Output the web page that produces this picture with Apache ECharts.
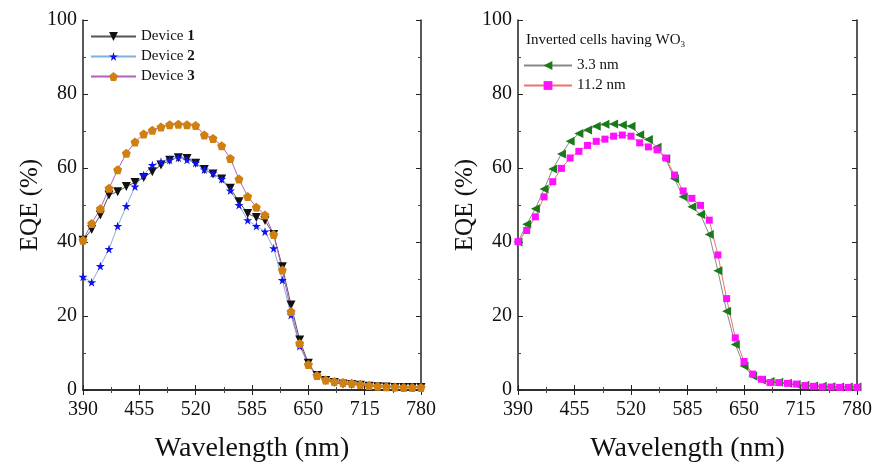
<!DOCTYPE html>
<html lang="en">
<head>
<meta charset="UTF-8">
<title>EQE</title>
<style>
  html, body { margin: 0; padding: 0; background: #fff; }
  #chart { width: 875px; height: 464px; }
</style>
</head>
<body>
<div id="chart"></div>
<script src="https://cdn.jsdelivr.net/npm/echarts@6/dist/echarts.min.js"></script>
<script>
// wavelength (nm), 10 nm steps
var wavelength = [390,400,410,420,430,440,450,460,470,480,490,500,510,520,530,540,550,560,570,580,
                  590,600,610,620,630,640,650,660,670,680,690,700,710,720,730,740,750,760,770,780];

// left panel
var device1 = [40.5,43.4,47.3,52.7,53.6,55.0,56.1,57.4,59.0,60.8,62.1,62.8,62.6,61.3,59.6,58.4,57.0,54.5,50.9,47.7,
               46.6,45.8,42.0,33.3,23.0,13.5,7.2,3.9,2.6,2.0,1.6,1.5,1.3,1.0,0.9,0.8,0.7,0.7,0.7,0.7];
var device2 = [30.6,29.1,33.5,38.1,44.3,49.7,55.0,58.1,60.8,61.7,62.2,62.8,62.2,61.4,59.6,58.6,57.0,53.9,50.0,45.9,
               44.3,42.8,38.3,29.7,20.3,11.9,6.8,3.9,2.7,2.2,1.9,1.7,1.4,1.1,1.0,0.9,0.8,0.7,0.7,0.7];
var device3 = [40.5,45.0,49.0,54.5,59.5,64.0,67.0,69.2,70.2,71.1,71.7,71.8,71.7,71.5,68.9,68.0,66.0,62.6,57.0,52.3,
               49.4,47.3,42.0,32.4,21.2,12.6,6.9,3.9,2.7,2.3,2.0,1.8,1.5,1.2,1.0,0.9,0.8,0.7,0.7,0.7];

// right panel
var wo3_33 = [40.0,44.8,49.0,54.3,59.7,63.8,67.2,69.3,70.3,71.3,71.8,71.9,71.6,71.3,69.0,67.7,65.6,62.5,57.1,52.2,
              49.5,47.4,42.0,32.2,21.3,12.3,6.5,3.8,2.7,2.3,2.1,1.8,1.5,1.3,1.1,1.0,0.9,0.8,0.8,0.8];
var wo3_112 = [40.1,43.1,46.8,52.2,56.3,59.9,62.7,64.5,66.1,67.2,67.8,68.6,68.9,68.6,66.8,65.7,64.9,62.7,58.1,53.8,
               51.8,49.9,45.9,36.5,24.7,14.1,7.7,4.3,2.9,2.0,2.0,1.8,1.6,1.2,1.0,0.8,0.8,0.7,0.7,0.7];

var xMin = 390, xMax = 780, xStep = 65;
var yMin = 0, yMax = 100, yStep = 20;

function pairs(ys) {
  var out = [];
  for (var i = 0; i < wavelength.length; i++) out.push([wavelength[i], ys[i]]);
  return out;
}

var font = 'Liberation Serif';
var starPath = 'path://M50,0 L61,35 L98,35 L68,57 L79,91 L50,70 L21,91 L32,57 L2,35 L39,35 Z';
var pentPath = 'path://M50,0 L98,35 L79,91 L21,91 L2,35 Z';

function xAxisFor(grid, top) {
  return {
    type: 'value', gridIndex: grid, position: top ? 'top' : 'bottom',
    min: xMin, max: xMax, interval: xStep,
    name: top ? '' : 'Wavelength (nm)', nameLocation: 'middle', nameGap: 45,
    nameTextStyle: { fontFamily: font, fontSize: 28, color: '#111' },
    axisLine: { show: true, lineStyle: { color: '#222', width: 1.5 } },
    axisTick: { show: true, inside: true, length: 5, lineStyle: { color: '#222' } },
    minorTick: { show: true, splitNumber: 2, length: 3, lineStyle: { color: '#444' } },
    axisLabel: { show: !top, fontFamily: font, fontSize: 20, color: '#111', margin: 10 },
    splitLine: { show: false }
  };
}

function yAxisFor(grid, right) {
  return {
    type: 'value', gridIndex: grid, position: right ? 'right' : 'left',
    min: yMin, max: yMax, interval: yStep,
    name: right ? '' : 'EQE (%)', nameLocation: 'middle', nameGap: 40,
    nameTextStyle: { fontFamily: font, fontSize: 25, color: '#111' },
    axisLine: { show: true, lineStyle: { color: '#222', width: 1.5 } },
    axisTick: { show: true, inside: true, length: 5, lineStyle: { color: '#222' } },
    minorTick: { show: true, splitNumber: 2, length: 3, lineStyle: { color: '#444' } },
    axisLabel: { show: !right, fontFamily: font, fontSize: 20, color: '#111', margin: 6 },
    splitLine: { show: false }
  };
}

function lineSeries(name, data, xi, yi, symbol, size, rot, symColor, lineColor) {
  return {
    name: name, type: 'line', xAxisIndex: xi, yAxisIndex: yi,
    data: pairs(data), symbol: symbol, symbolSize: size, symbolRotate: rot,
    showAllSymbol: true, animation: false,
    itemStyle: { color: symColor },
    lineStyle: { color: lineColor, width: 1 }
  };
}

var chart = echarts.init(document.getElementById('chart'));
chart.setOption({
  backgroundColor: '#fff',
  grid: [
    { left: 83, right: 454, top: 20, bottom: 74, outerBoundsMode: 'none' },
    { left: 518, right: 18, top: 20, bottom: 74, outerBoundsMode: 'none' }
  ],
  xAxis: [xAxisFor(0, false), xAxisFor(0, true), xAxisFor(1, false), xAxisFor(1, true)],
  yAxis: [yAxisFor(0, false), yAxisFor(0, true), yAxisFor(1, false), yAxisFor(1, true)],
  title: {
    left: 521, top: 26,
    text: 'Inverted cells having WO{s|3}',
    textStyle: {
      fontFamily: font, fontSize: 15, fontWeight: 'normal', color: '#111',
      rich: { s: { fontFamily: font, fontSize: 9, padding: [9, 0, 0, 0] } }
    }
  },
  legend: [
    {
      left: 85, top: 24, orient: 'vertical', itemWidth: 45, itemHeight: 11, itemGap: 5,
      data: ['Device 1', 'Device 2', 'Device 3'],
      formatter: function (n) { return 'Device {b|' + n.split(' ')[1] + '}'; },
      textStyle: {
        fontFamily: font, fontSize: 15, color: '#111',
        rich: { b: { fontFamily: font, fontSize: 15, fontWeight: 'bold' } }
      }
    },
    {
      left: 518, top: 53, orient: 'vertical', itemWidth: 48, itemHeight: 11, itemGap: 5,
      data: ['3.3 nm', '11.2 nm'],
      textStyle: { fontFamily: font, fontSize: 15, color: '#111' }
    }
  ],
  series: [
    lineSeries('Device 1', device1, 0, 0, 'triangle', 9, 180, '#111', '#555'),
    lineSeries('Device 2', device2, 0, 0, starPath, 9, 0, '#1010ee', '#7fb0e0'),
    lineSeries('Device 3', device3, 0, 0, pentPath, 9, 0, '#d08010', '#b060c0'),
    lineSeries('3.3 nm', wo3_33, 2, 2, 'triangle', 9, 90, '#1a7a1a', '#888'),
    lineSeries('11.2 nm', wo3_112, 2, 2, 'rect', 7, 0, '#ff10ff', '#f07070')
  ]
});
</script>
</body>
</html>
